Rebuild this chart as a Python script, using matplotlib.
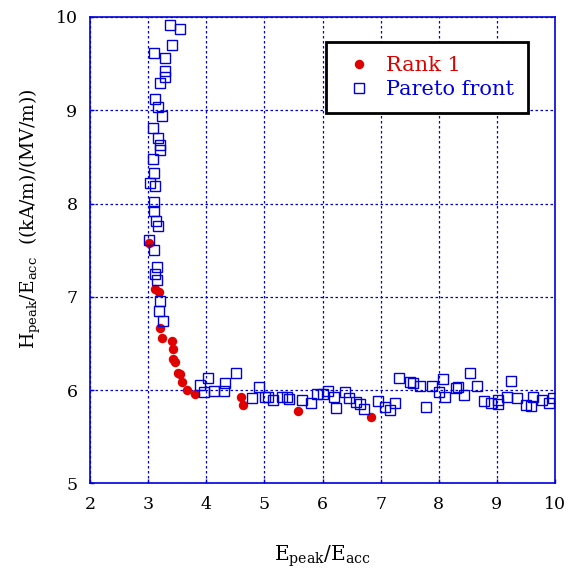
import matplotlib
matplotlib.use("Agg")
import matplotlib.pyplot as plt

plt.rcParams['font.family'] = ['DejaVu Serif']
plt.rcParams['mathtext.fontset'] = 'dejavuserif'
plt.rcParams['mathtext.default'] = 'regular'

# Rank 1 points
rank1_x = [3.015, 3.118, 3.187, 3.204, 3.238, 3.410, 3.427, 3.427, 3.462, 3.513,
           3.548, 3.582, 3.668, 3.806, 4.597, 4.631, 5.577, 6.832]
rank1_y = [7.576, 7.083, 7.050, 6.665, 6.557, 6.525, 6.439, 6.332, 6.300, 6.182,
           6.171, 6.086, 6.000, 5.957, 5.925, 5.839, 5.775, 5.711]

# Pareto front points
pareto_x = [3.376, 3.548, 3.410, 3.101, 3.290, 3.290, 3.290, 3.204, 3.118, 3.169,
            3.238, 3.083, 3.169, 3.204, 3.204, 3.083, 3.101, 3.032, 3.118, 3.101,
            3.101, 3.135, 3.169, 3.015, 3.101, 3.152, 3.118, 3.152, 3.204, 3.187,
            3.255,
            3.892, 4.029, 3.960, 4.132, 4.304, 4.322, 4.511, 4.786, 4.906, 5.009,
            5.061, 5.147, 5.302, 5.388, 5.422, 5.646, 5.800, 5.904, 6.007, 6.093,
            6.196, 6.230, 6.385, 6.454, 6.574, 6.643, 6.712, 6.953, 7.073, 7.159,
            7.245, 7.314, 7.503, 7.555, 7.675, 7.778, 7.881, 8.002, 8.070, 8.105,
            8.294, 8.328, 8.432, 8.535, 8.655, 8.775, 8.896, 9.016, 9.016, 9.171,
            9.240, 9.343, 9.498, 9.584, 9.618, 9.773, 9.893, 9.962]
pareto_y = [9.912, 9.869, 9.697, 9.612, 9.558, 9.419, 9.355, 9.290, 9.119, 9.033,
            8.937, 8.808, 8.701, 8.626, 8.572, 8.476, 8.326, 8.219, 8.186, 8.015,
            7.919, 7.811, 7.758, 7.608, 7.501, 7.318, 7.243, 7.179, 6.954, 6.847,
            6.740,
            6.054, 6.129, 5.979, 5.989, 5.989, 6.075, 6.182, 5.914, 6.032, 5.925,
            5.925, 5.893, 5.925, 5.925, 5.904, 5.893, 5.861, 5.957, 5.957, 5.989,
            5.925, 5.807, 5.979, 5.914, 5.871, 5.850, 5.796, 5.882, 5.818, 5.786,
            5.861, 6.129, 6.086, 6.075, 6.043, 5.818, 6.043, 5.979, 6.118, 5.925,
            6.021, 6.032, 5.946, 6.182, 6.043, 5.882, 5.861, 5.893, 5.850, 5.925,
            6.096, 5.914, 5.839, 5.829, 5.925, 5.893, 5.861, 5.914]

x_ticks = [2, 3, 4, 5, 6, 7, 8, 9, 10]
y_ticks = [5, 6, 7, 8, 9, 10]

RED = '#e00000'
BLUE = '#0000dd'

fig = plt.figure(figsize=(5.71, 5.76), dpi=100)
ax = fig.add_axes([0.1576, 0.1606, 0.8144, 0.8099])

ax.plot(rank1_x, rank1_y, linestyle='none', marker='o', markersize=6.8,
        color=RED, markeredgewidth=0, label='Rank 1', zorder=3)
ax.plot(pareto_x, pareto_y, linestyle='none', marker='s', markersize=6.5,
        markerfacecolor='none', markeredgecolor=BLUE, markeredgewidth=1.0,
        label='Pareto front', zorder=4)

ax.set_xlim(2, 10)
ax.set_ylim(5, 10)
ax.set_xticks(x_ticks)
ax.set_yticks(y_ticks)
ax.grid(True, color=BLUE, linestyle=(0, (2, 2)), linewidth=0.9)
ax.set_axisbelow(True)
for s in ax.spines.values():
    s.set_color(BLUE)
    s.set_linewidth(1.2)
ax.tick_params(direction='in', color=BLUE, length=3, width=1, labelsize=12.5,
               pad=9, labelcolor='black')

ax.set_xlabel(r'$\mathregular{E_{peak}/E_{acc}}$', fontsize=14.5, labelpad=22)
ax.set_ylabel(r'$\mathregular{H_{peak}/E_{acc}}$  ((kA/m)/(MV/m))', fontsize=13.5)
ax.yaxis.set_label_coords(-0.10, 0.567)

leg = ax.legend(loc='upper right', bbox_to_anchor=(0.942, 0.946), fontsize=15,
                frameon=True, fancybox=False, edgecolor='black', framealpha=1,
                borderpad=0.67, handletextpad=0.38, labelspacing=0.25,
                handlelength=1.83, borderaxespad=0)
leg.get_frame().set_linewidth(2)
for t, c in zip(leg.get_texts(), [RED, BLUE]):
    t.set_color(c)

fig.savefig('out.png', dpi=100)
